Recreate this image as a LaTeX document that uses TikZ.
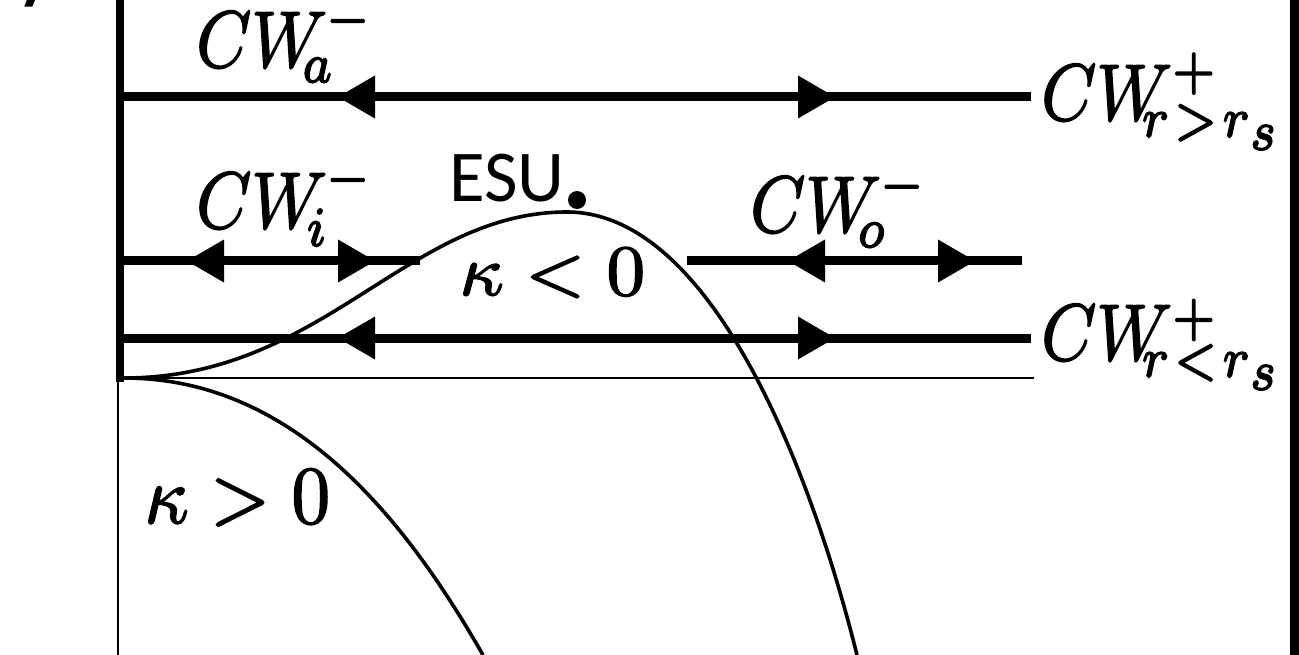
\documentclass[tikz,border=0pt]{standalone}
\usepackage{fontspec}
\newfontfamily\esufont{Carlito}
\usetikzlibrary{calc}

% filled triangular heads, given by the position of their tip
\newcommand\headpointleft[1]{\fill (#1) -- ++(37,-21.5) -- ++(0,43) -- cycle;}
\newcommand\headpointright[1]{\fill (#1) -- ++(-37,-21.5) -- ++(0,43) -- cycle;}
% glyphs filled and outlined, for a heavier stroke
\newcommand\heavytext[1]{\special{pdf:literal direct 2 Tr 0.2 w}#1\special{pdf:literal direct 0 Tr}}
% CW with a subscript and a superscript set at given offsets
% #1 sub, #2 sup, #3 sub shift, #4 sub drop, #5 sup shift, #6 sup raise
\newcommand\cwlabel[6]{%
  \rlap{$CW$}%
  \kern#3\rlap{\raisebox{-#4}[0pt][0pt]{$\scriptstyle #1$}}%
  \kern-#3\kern#5\raisebox{#6}[0pt][0pt]{$\scriptstyle #2$}}

\begin{document}
\begin{tikzpicture}[x=1pt,y=-1pt,
  thickline/.style={line width=9pt},
  thinline/.style={line width=2pt},
  curveline/.style={line width=3.6pt},
  mainlbl/.style={inner sep=0pt, anchor=base west, xscale=7.0, yscale=8},
  klbl/.style={inner sep=0pt, anchor=base west, xscale=7.7, yscale=7.2},
  kplbl/.style={inner sep=0pt, anchor=base west, xscale=7.7, yscale=8.2},
  sanslbl/.style={inner sep=0pt, anchor=base west, scale=7.3, font=\esufont}]
\useasboundingbox (0,0) rectangle (1299,655);

% frame bars
\fill (116,0) rectangle (124,382);
\fill (1290,0) rectangle (1299,655);
% clipped stroke in the corner
\fill (26.7,0) -- (35,0) -- (32.3,6.7) -- (24.3,6.7) -- cycle;

% axes
\coordinate (O) at (118,378);
\coordinate (Xend) at (1034,378);
\coordinate (Ybot) at (118,655);
\draw[thinline] (O) -- (Xend);
\draw[thinline] (O) -- (Ybot);

% flow lines
\coordinate (A1) at (124,97);  \coordinate (A2) at (1031,97);
\coordinate (B1) at (124,261); \coordinate (B2) at (420,261);
\coordinate (B3) at (687,261); \coordinate (B4) at (1022,261);
\coordinate (C1) at (124,338); \coordinate (C2) at (1031,338);
\draw[thickline] (A1) -- (A2);
\draw[thickline] (B1) -- (B2);
\draw[thickline] (B3) -- (B4);
\draw[thickline] (C1) -- (C2);

\headpointleft{338,97}
\headpointright{835,97}
\headpointleft{187,261}
\headpointright{375,261}
\headpointleft{788,261}
\headpointright{975,261}
\headpointleft{338,338}
\headpointright{835,338}

% curvature boundaries
\coordinate (S) at (124,378);
\coordinate (P) at (567,212);
\draw[curveline] (S) .. controls (324,378) and (407,212) .. (P)
                     .. controls (707,212) and (807,455) .. (857,655);
\draw[curveline] (S) .. controls (292,378) and (403,515) .. (483,655);

% ESU point
\fill (577,200) circle[radius=9pt];
\node[sanslbl] (esu) at (448,202) {ESU};

% wave labels
\node[mainlbl] (cwa) at (195,67)
  {\heavytext{\cwlabel{a}{-}{15.1pt}{1.9pt}{18.5pt}{4.0pt}}};
\node[mainlbl] (cwi) at (195,228)
  {\heavytext{\cwlabel{i}{-}{15.7pt}{2.25pt}{18.5pt}{4.25pt}}};
\node[mainlbl] (cwo) at (749,232)
  {\heavytext{\cwlabel{o}{-}{15.3pt}{1.9pt}{18.5pt}{3.9pt}}};
\node[mainlbl] (cwrg) at (1040,120)
  {\heavytext{\cwlabel{r\mskip1.5mu{>}\mskip1.5mu r\lower1.6pt\hbox{$\scriptstyle s$}}{+}{14.3pt}{2.1pt}{18.7pt}{4.05pt}}};
\node[mainlbl] (cwrl) at (1040,360)
  {\heavytext{\cwlabel{r\mskip1.5mu{<}\mskip1.5mu r\lower1.6pt\hbox{$\scriptstyle s$}}{+}{14.3pt}{2.1pt}{18.7pt}{3.25pt}}};

% curvature signs
\node[klbl] (kneg) at (458,295) {\heavytext{$\kappa<0$}};
\node[kplbl] (kpos) at (143,523) {\heavytext{$\kappa>0$}};
\end{tikzpicture}
\end{document}
